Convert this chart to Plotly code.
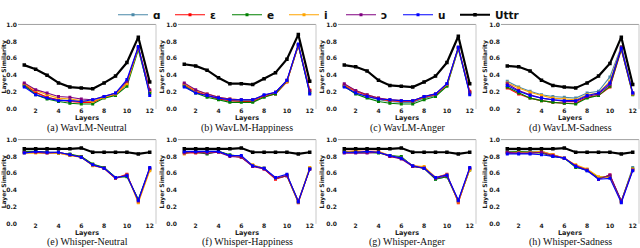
import plotly.graph_objects as go

LAYERS = list(range(1, 13))
SERIES = ["ɑ", "ε", "e", "i", "ɔ", "u", "Uttr"]
COLORS = ["#4a89a8", "#ff0000", "#008000", "#ffa500", "#800080", "#0000ff", "#000000"]
PANEL_TITLES = [
    "(a) WavLM-Neutral", "(b) WavLM-Happiness", "(c) WavLM-Anger", "(d) WavLM-Sadness",
    "(e) Whisper-Neutral", "(f) Whisper-Happiness", "(g) Whisper-Anger", "(h) Whisper-Sadness",
]
X_TICKS = [2, 4, 6, 8, 10, 12]
Y_TICKS = [0.0, 0.2, 0.4, 0.6, 0.8, 1.0]
Y_TICK_TEXT = ["0.0", "0.2", "0.4", "0.6", "0.8", "1.0"]

# each panel: rows in SERIES order (ɑ, ε, e, i, ɔ, u, Uttr)
wavlm_neutral = [
    [0.27, 0.19, 0.14, 0.11, 0.10, 0.09, 0.09, 0.14, 0.18, 0.31, 0.72, 0.19],
    [0.29, 0.20, 0.14, 0.11, 0.09, 0.08, 0.08, 0.14, 0.17, 0.30, 0.73, 0.21],
    [0.28, 0.17, 0.12, 0.09, 0.07, 0.06, 0.06, 0.13, 0.16, 0.27, 0.70, 0.19],
    [0.30, 0.22, 0.17, 0.13, 0.12, 0.10, 0.09, 0.14, 0.18, 0.30, 0.72, 0.22],
    [0.31, 0.23, 0.19, 0.15, 0.14, 0.12, 0.11, 0.15, 0.19, 0.33, 0.73, 0.23],
    [0.26, 0.17, 0.13, 0.10, 0.10, 0.09, 0.11, 0.15, 0.19, 0.35, 0.74, 0.16],
    [0.52, 0.47, 0.40, 0.31, 0.26, 0.25, 0.24, 0.31, 0.39, 0.55, 0.85, 0.32],
]
wavlm_happiness = [
    [0.28, 0.20, 0.16, 0.12, 0.10, 0.10, 0.10, 0.16, 0.19, 0.33, 0.76, 0.20],
    [0.29, 0.21, 0.16, 0.12, 0.10, 0.09, 0.09, 0.15, 0.18, 0.32, 0.75, 0.22],
    [0.27, 0.19, 0.14, 0.11, 0.08, 0.08, 0.08, 0.14, 0.18, 0.33, 0.75, 0.19],
    [0.30, 0.22, 0.18, 0.14, 0.12, 0.11, 0.11, 0.16, 0.20, 0.33, 0.76, 0.23],
    [0.31, 0.23, 0.18, 0.14, 0.12, 0.11, 0.11, 0.16, 0.20, 0.34, 0.76, 0.22],
    [0.26, 0.19, 0.16, 0.13, 0.11, 0.11, 0.11, 0.17, 0.20, 0.34, 0.77, 0.18],
    [0.53, 0.51, 0.46, 0.37, 0.30, 0.30, 0.29, 0.36, 0.43, 0.59, 0.88, 0.33],
]
wavlm_anger = [
    [0.27, 0.19, 0.15, 0.11, 0.09, 0.08, 0.08, 0.13, 0.16, 0.29, 0.73, 0.19],
    [0.28, 0.21, 0.16, 0.12, 0.10, 0.09, 0.09, 0.14, 0.17, 0.28, 0.72, 0.21],
    [0.27, 0.18, 0.13, 0.09, 0.07, 0.06, 0.06, 0.11, 0.15, 0.27, 0.71, 0.19],
    [0.29, 0.22, 0.17, 0.13, 0.11, 0.10, 0.10, 0.15, 0.18, 0.29, 0.72, 0.20],
    [0.30, 0.22, 0.17, 0.13, 0.11, 0.10, 0.10, 0.15, 0.18, 0.30, 0.73, 0.20],
    [0.26, 0.19, 0.15, 0.12, 0.11, 0.10, 0.10, 0.15, 0.18, 0.30, 0.73, 0.17],
    [0.52, 0.50, 0.45, 0.34, 0.28, 0.27, 0.26, 0.32, 0.39, 0.55, 0.86, 0.30],
]
wavlm_sadness = [
    [0.33, 0.26, 0.21, 0.17, 0.15, 0.14, 0.13, 0.19, 0.21, 0.38, 0.74, 0.19],
    [0.25, 0.18, 0.13, 0.10, 0.08, 0.07, 0.07, 0.14, 0.16, 0.26, 0.70, 0.18],
    [0.26, 0.19, 0.13, 0.10, 0.08, 0.07, 0.06, 0.13, 0.16, 0.27, 0.71, 0.17],
    [0.31, 0.25, 0.20, 0.16, 0.13, 0.12, 0.11, 0.17, 0.19, 0.33, 0.73, 0.18],
    [0.30, 0.22, 0.17, 0.13, 0.11, 0.09, 0.09, 0.15, 0.18, 0.29, 0.73, 0.19],
    [0.28, 0.21, 0.16, 0.13, 0.11, 0.10, 0.10, 0.16, 0.19, 0.31, 0.72, 0.19],
    [0.51, 0.50, 0.45, 0.34, 0.28, 0.26, 0.25, 0.31, 0.39, 0.54, 0.85, 0.29],
]
whisper_neutral = [
    [0.85, 0.86, 0.85, 0.85, 0.82, 0.79, 0.70, 0.67, 0.55, 0.57, 0.29, 0.66],
    [0.85, 0.85, 0.85, 0.84, 0.82, 0.80, 0.70, 0.66, 0.54, 0.59, 0.26, 0.65],
    [0.86, 0.86, 0.85, 0.84, 0.83, 0.80, 0.71, 0.67, 0.55, 0.56, 0.29, 0.64],
    [0.84, 0.84, 0.84, 0.84, 0.81, 0.79, 0.69, 0.66, 0.54, 0.58, 0.25, 0.63],
    [0.85, 0.85, 0.84, 0.85, 0.82, 0.79, 0.70, 0.66, 0.54, 0.58, 0.27, 0.66],
    [0.84, 0.86, 0.85, 0.85, 0.82, 0.79, 0.70, 0.66, 0.55, 0.57, 0.28, 0.67],
    [0.89, 0.89, 0.89, 0.89, 0.89, 0.90, 0.85, 0.85, 0.85, 0.85, 0.83, 0.85],
]
whisper_happiness = [
    [0.85, 0.86, 0.86, 0.86, 0.81, 0.80, 0.69, 0.66, 0.54, 0.58, 0.27, 0.65],
    [0.85, 0.84, 0.85, 0.86, 0.81, 0.79, 0.69, 0.65, 0.53, 0.57, 0.25, 0.65],
    [0.85, 0.85, 0.83, 0.86, 0.82, 0.80, 0.69, 0.66, 0.54, 0.57, 0.26, 0.66],
    [0.83, 0.86, 0.85, 0.85, 0.81, 0.79, 0.70, 0.66, 0.54, 0.58, 0.26, 0.67],
    [0.84, 0.85, 0.84, 0.85, 0.80, 0.79, 0.68, 0.65, 0.54, 0.57, 0.27, 0.65],
    [0.86, 0.86, 0.86, 0.86, 0.81, 0.81, 0.69, 0.66, 0.55, 0.59, 0.26, 0.65],
    [0.89, 0.89, 0.89, 0.89, 0.89, 0.90, 0.85, 0.85, 0.85, 0.85, 0.83, 0.85],
]
whisper_anger = [
    [0.85, 0.85, 0.85, 0.85, 0.81, 0.79, 0.69, 0.66, 0.53, 0.56, 0.28, 0.65],
    [0.86, 0.86, 0.86, 0.86, 0.80, 0.78, 0.69, 0.67, 0.55, 0.59, 0.25, 0.66],
    [0.86, 0.85, 0.85, 0.84, 0.81, 0.80, 0.68, 0.66, 0.53, 0.56, 0.27, 0.64],
    [0.85, 0.87, 0.85, 0.86, 0.81, 0.78, 0.69, 0.68, 0.55, 0.58, 0.26, 0.64],
    [0.84, 0.84, 0.84, 0.85, 0.80, 0.77, 0.68, 0.66, 0.54, 0.57, 0.27, 0.66],
    [0.85, 0.85, 0.86, 0.85, 0.81, 0.78, 0.69, 0.66, 0.55, 0.58, 0.28, 0.67],
    [0.89, 0.89, 0.89, 0.89, 0.89, 0.90, 0.85, 0.85, 0.85, 0.85, 0.83, 0.85],
]
whisper_sadness = [
    [0.86, 0.86, 0.86, 0.86, 0.82, 0.78, 0.68, 0.63, 0.55, 0.57, 0.27, 0.67],
    [0.84, 0.84, 0.84, 0.85, 0.82, 0.78, 0.69, 0.64, 0.53, 0.58, 0.26, 0.64],
    [0.85, 0.86, 0.85, 0.84, 0.80, 0.78, 0.67, 0.64, 0.55, 0.56, 0.27, 0.65],
    [0.85, 0.85, 0.85, 0.86, 0.82, 0.78, 0.70, 0.65, 0.56, 0.55, 0.26, 0.65],
    [0.85, 0.84, 0.84, 0.85, 0.81, 0.78, 0.69, 0.64, 0.53, 0.58, 0.27, 0.64],
    [0.83, 0.83, 0.83, 0.82, 0.80, 0.78, 0.68, 0.63, 0.53, 0.54, 0.25, 0.63],
    [0.89, 0.89, 0.89, 0.89, 0.89, 0.90, 0.85, 0.85, 0.85, 0.85, 0.83, 0.85],
]

PANELS = [wavlm_neutral, wavlm_happiness, wavlm_anger, wavlm_sadness,
          whisper_neutral, whisper_happiness, whisper_anger, whisper_sadness]

W, H = 640, 248
X_PIX = [(18, 156), (178, 316), (338, 476), (501, 639)]
Y_PIX = [(17, 104.5), (136, 223)]  # (top, bottom) pixel rows
CAPTION_Y = [123.5, 242]

tick_font = dict(family="DejaVu Sans", size=6, color="#1a1a1a", weight="bold")

fig = go.Figure()
shapes = []
annotations = []
for p, data in enumerate(PANELS):
    r, c = divmod(p, 4)
    idx = p + 1
    xa = "x" if idx == 1 else f"x{idx}"
    ya = "y" if idx == 1 else f"y{idx}"
    for s, name in enumerate(SERIES):
        is_uttr = name == "Uttr"
        fig.add_trace(go.Scatter(
            x=LAYERS, y=data[s], mode="lines+markers", name=name, legendgroup=name,
            showlegend=(p == 0), xaxis=xa, yaxis=ya,
            legendwidth=34 if is_uttr else None,
            line=dict(color=COLORS[s], width=2.2 if is_uttr else 1.1),
            marker=dict(symbol="square", size=3.5 if is_uttr else 3, color=COLORS[s]),
        ))
    x0, x1 = X_PIX[c]
    yt, yb = Y_PIX[r]
    fig.layout[f"xaxis{'' if idx == 1 else idx}"] = dict(
        domain=[x0 / W, x1 / W], anchor=ya, range=[0.45, 12.55],
        tickvals=X_TICKS, ticks="", showgrid=False, zeroline=False, showline=False,
        tickfont=tick_font, automargin=False, ticklabelstandoff=-3,
        title=dict(text="Layers", font=dict(family="DejaVu Sans", size=6.5, color="#1a1a1a", weight="bold"), standoff=0),
    )
    fig.layout[f"yaxis{'' if idx == 1 else idx}"] = dict(
        domain=[1 - yb / H, 1 - yt / H], anchor=xa, range=[0, 1.0],
        tickvals=Y_TICKS, ticktext=Y_TICK_TEXT, ticks="", showgrid=False, zeroline=False,
        showline=False, tickfont=tick_font, automargin=False,
        title=dict(text="Layer Similarity", font=dict(family="DejaVu Sans", size=6, color="#1a1a1a", weight="bold"), standoff=1),
    )
    shapes.append(dict(type="line", xref=f"{xa} domain", yref=f"{ya} domain",
                       x0=0, x1=1, y0=1, y1=1, line=dict(color="#a0a0a0", width=1)))
    shapes.append(dict(type="line", xref=f"{xa} domain", yref=f"{ya} domain",
                       x0=1, x1=1, y0=0, y1=1, line=dict(color="#c8c8c8", width=1)))
    annotations.append(dict(text=PANEL_TITLES[p], xref="paper", yref="paper",
                            x=(x0 + x1) / 2 / W, y=1 - CAPTION_Y[r] / H,
                            xanchor="center", yanchor="middle", showarrow=False,
                            font=dict(family="Liberation Serif", size=10, color="#111")))

fig.update_layout(
    width=W, height=H, margin=dict(l=0, r=0, t=0, b=0),
    paper_bgcolor="white", plot_bgcolor="white",
    shapes=shapes, annotations=annotations,
    legend=dict(orientation="h", x=113 / W, xanchor="left", y=1 + 8 / H, yanchor="top",
                font=dict(family="DejaVu Sans", size=10.5, color="#111", weight="bold"),
                bgcolor="rgba(0,0,0,0)", itemwidth=30, tracegroupgap=0,
                entrywidth=12, entrywidthmode="pixels"),
    showlegend=True,
)
fig.write_html("out.html", config={"displayModeBar": False},
               post_script="document.body.style.margin='0';")
